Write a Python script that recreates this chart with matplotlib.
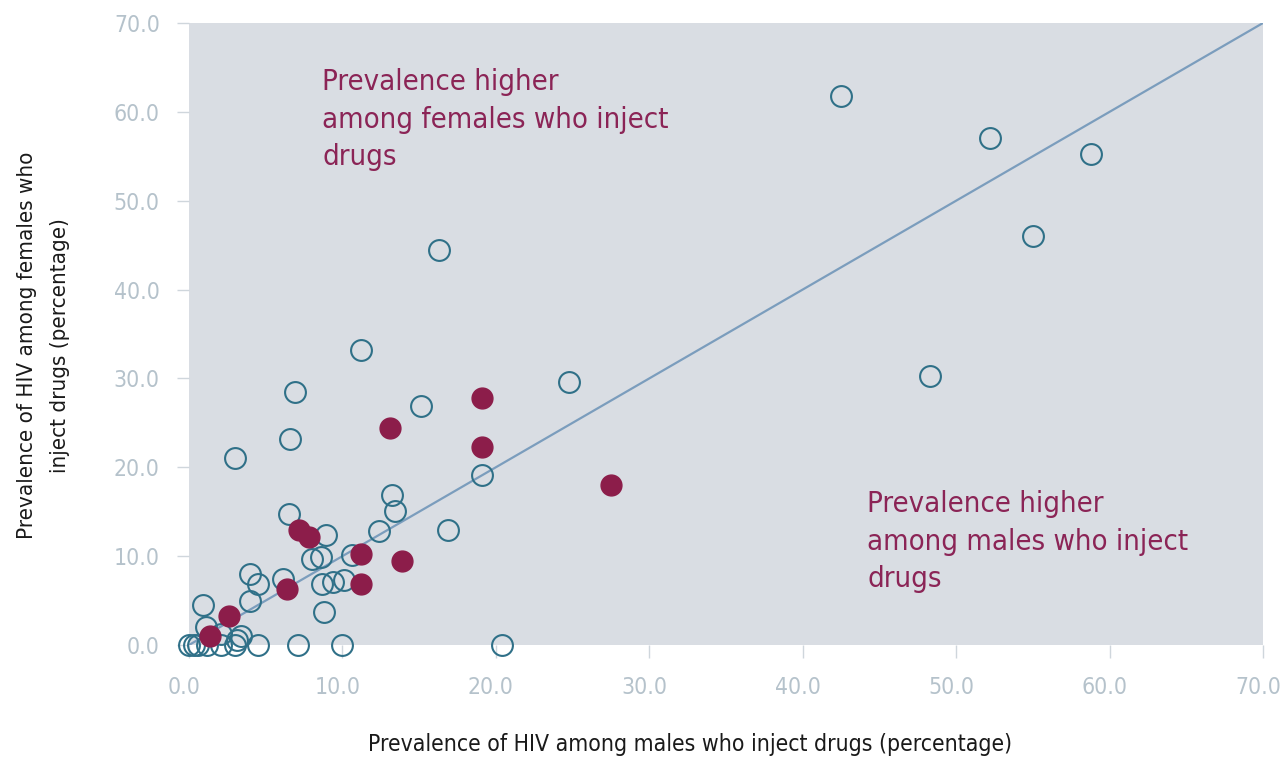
import matplotlib
matplotlib.use("Agg")
import matplotlib.pyplot as plt
import matplotlib.transforms as mtransforms

# ---- data ----
open_x = [42.5, 52.2, 58.8, 55.0, 48.3, 24.8, 16.3, 11.2, 15.1, 19.1,
          6.9, 6.6, 3.0, 20.4, 10.0, 7.1, 4.5, 3.0, 2.1, 1.2,
          0.6, 0.0, 0.3, 0.9, 1.1, 2.1, 3.1, 3.4, 4.0, 4.5,
          4.0, 6.1, 6.5, 8.9, 8.0, 8.6, 8.7, 9.4, 10.1, 10.6,
          8.8, 12.4, 13.2, 13.4, 16.9]
open_y = [61.8, 57.1, 55.3, 46.0, 30.3, 29.6, 44.5, 33.2, 26.9, 19.1,
          28.5, 23.2, 21.0, 0.0, 0.0, 0.0, 0.0, 0.0, 0.0, 0.0,
          0.0, 0.0, 0.0, 4.5, 2.0, 1.2, 0.6, 1.0, 8.0, 6.9,
          5.0, 7.4, 14.7, 12.4, 9.7, 9.9, 6.9, 7.1, 7.3, 10.1,
          3.7, 12.8, 16.9, 15.1, 12.9]

red_x = [27.5, 19.1, 19.1, 13.1, 7.2, 7.8, 11.2, 11.2, 13.9, 6.4, 2.6, 1.4]
red_y = [18.0, 27.8, 22.3, 24.4, 12.9, 12.1, 10.2, 6.9, 9.5, 6.3, 3.3, 1.0]

diag = [0, 70]
ticks = [0, 10, 20, 30, 40, 50, 60, 70]
tick_labels = ["0.0", "10.0", "20.0", "30.0", "40.0", "50.0", "60.0", "70.0"]

text_female = "Prevalence higher\namong females who inject\ndrugs"
text_male = "Prevalence higher\namong males who inject\ndrugs"
xlabel = "Prevalence of HIV among males who inject drugs (percentage)"
ylabel = "Prevalence of HIV among females who\ninject drugs (percentage)"

# ---- fonts ----
fam = ["DejaVu Sans"]
STRETCH = "condensed"

fig = plt.figure(figsize=(12.83, 7.59), dpi=100)
ax = fig.add_axes([0.1473, 0.1502, 0.8371, 0.8195])
ax.set_facecolor("#d9dde3")
for s in ax.spines.values():
    s.set_visible(False)

ax.plot(diag, diag, color="#7b9dbd", lw=1.6, zorder=2)
ax.plot(open_x, open_y, linestyle="none", marker="o", markersize=15,
        markerfacecolor="none", markeredgecolor="#2f7088", markeredgewidth=1.5,
        clip_on=False, zorder=3)
ax.plot(red_x, red_y, linestyle="none", marker="o", markersize=15,
        markerfacecolor="#8c1d4a", markeredgecolor="#8c1d4a", markeredgewidth=1,
        clip_on=False, zorder=4)

ax.set_xlim(0, 70)
ax.set_ylim(0, 70)
ax.set_xticks(ticks)
ax.set_xticklabels(tick_labels)
ax.set_yticks(ticks)
ax.set_yticklabels(tick_labels)
ax.tick_params(axis="both", colors="#cfd6dc", length=9, width=1,
               labelsize=16.5, labelcolor="#b5c2cb")
ax.tick_params(axis="y", pad=12)
ax.tick_params(axis="x", pad=13)
shift = mtransforms.ScaledTranslation(-5 / 100, 0, fig.dpi_scale_trans)
for lbl in ax.get_xticklabels():
    lbl.set_transform(lbl.get_transform() + shift)
for lbl in ax.get_xticklabels() + ax.get_yticklabels():
    lbl.set_family(fam)
    lbl.set_stretch(STRETCH)

ax.text(8.7, 64.9, text_female, color="#8b2456", fontsize=21, va="top", ha="left",
        family=fam, stretch=STRETCH, linespacing=1.42)
ax.text(44.2, 17.4, text_male, color="#8b2456", fontsize=21, va="top", ha="left",
        family=fam, stretch=STRETCH, linespacing=1.42)

fig.text(0.538, 0.004, xlabel, ha="center", va="bottom", fontsize=16.5,
         color="#1a1a1a", family=fam, stretch=STRETCH)
fig.text(0.034, 0.545, ylabel, ha="center", va="center", rotation=90,
         fontsize=16, color="#1a1a1a", family=fam, stretch=STRETCH, linespacing=1.85)

fig.savefig("out.png", dpi=100)
